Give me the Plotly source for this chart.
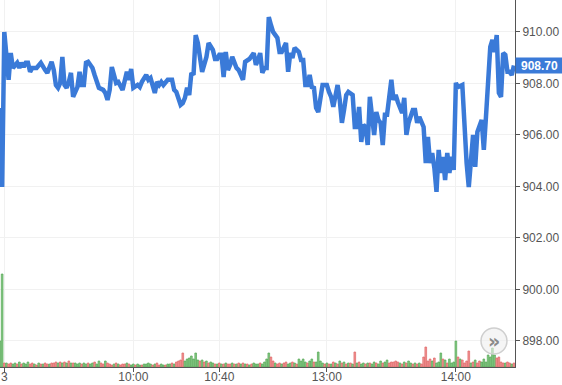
import plotly.graph_objects as go

# ---- price line (minute index in session, price) ----
minutes = [0, 1, 2, 4, 5, 6, 8, 9, 10, 11, 12, 13, 14, 15, 17, 18, 19, 21, 22, 24,
           25, 26, 27, 28, 29, 30, 31, 32, 33, 34, 35, 36, 37, 38, 39, 40, 41, 43, 44, 45,
           46, 48, 49, 50, 51, 52, 54, 55, 56, 57, 59, 60, 61, 62, 64, 65, 66, 68, 69, 70,
           72, 73, 74, 75, 76, 78, 79, 80, 81, 82, 84, 85, 86, 87, 88, 89, 90, 91, 92, 93,
           94, 96, 97, 99, 100, 101, 102, 103, 104, 105, 106, 107, 108, 110, 111, 112, 113, 114, 116, 118,
           119, 120, 121, 122, 123, 124, 125, 126, 127, 129, 130, 131, 132, 133, 134, 135, 136, 137, 139, 140,
           141, 142, 143, 144, 145, 146, 147, 148, 150, 152, 153, 154, 155, 156, 157, 158, 159, 160, 161, 162,
           164, 165, 166, 167, 168, 169, 170, 171, 172, 174, 175, 176, 177, 178, 179, 180, 181, 182, 183, 184,
           185, 186, 187, 188, 189, 190, 192, 193, 194, 195, 196, 197, 198, 199, 200, 201, 202, 203, 204, 205,
           206, 207, 208, 209, 210, 211, 212, 213, 215, 216, 217, 218, 219, 220, 221, 222, 224, 225, 226, 227,
           228, 229, 230, 231, 232, 233, 234, 235, 236, 237, 238, 239]
prices = [907.05, 903.98, 910.00, 908.14, 909.18, 908.60, 908.80, 908.60, 908.80, 908.64,
          908.80, 908.80, 908.45, 908.60, 908.60, 908.72, 908.80, 908.52, 908.41, 908.84,
          908.52, 907.94, 907.83, 908.02, 909.03, 907.94, 907.83, 908.06, 908.41, 907.48,
          907.67, 907.86, 908.45, 907.94, 907.94, 908.80, 908.84, 908.60, 908.33, 908.06,
          907.83, 907.75, 907.63, 907.36, 907.75, 908.64, 908.02, 908.06, 907.94, 907.75,
          908.45, 908.14, 908.56, 907.83, 907.94, 907.86, 908.06, 908.33, 908.14, 908.21,
          907.63, 908.06, 907.94, 908.06, 907.94, 908.14, 908.14, 908.14, 907.75, 907.67,
          907.17, 907.24, 907.44, 907.83, 907.55, 908.41, 908.33, 909.88, 909.57, 908.99,
          908.45, 909.03, 909.57, 909.30, 908.95, 908.95, 909.11, 909.11, 908.25, 909.22,
          908.52, 908.72, 909.03, 908.60, 908.52, 908.33, 908.14, 908.84, 908.95, 909.18,
          908.72, 908.91, 909.18, 908.41, 908.60, 908.60, 910.58, 910.27, 910.00, 909.77,
          909.22, 909.22, 909.42, 909.57, 908.45, 909.18, 908.99, 909.38, 909.22, 908.91,
          908.91, 907.94, 907.94, 908.33, 907.86, 907.83, 907.05, 906.89, 907.94, 907.94,
          907.67, 907.48, 907.09, 907.55, 907.94, 907.36, 906.47, 906.97, 907.55, 907.67,
          907.55, 906.31, 906.31, 907.09, 905.73, 906.39, 906.31, 905.61, 907.48, 906.00,
          906.89, 906.58, 906.47, 905.61, 906.78, 906.78, 907.55, 908.14, 907.36, 907.55,
          907.28, 907.05, 906.85, 907.44, 906.00, 906.47, 906.97, 906.97, 906.47, 906.70,
          906.51, 906.31, 904.91, 905.92, 904.91, 905.30, 904.72, 903.79, 905.42, 904.52,
          905.15, 904.25, 905.30, 904.52, 905.15, 904.64, 908.02, 907.86, 907.94, 905.92,
          904.91, 903.98, 904.91, 906.00, 904.76, 906.12, 906.58, 905.42, 906.70, 908.41,
          909.42, 909.69, 909.22, 909.88, 907.63, 907.48, 909.18, 909.11, 908.45, 908.45,
          908.33, 908.70]

# ---- volume per minute (index 0..239) and direction (g = up, r = down) ----
volume = [26, 93, 4, 4, 3, 4, 3, 4, 3, 5,
          3, 4, 3, 5, 3, 4, 3, 2, 4, 3,
          3, 4, 3, 3, 4, 4, 5, 4, 5, 4,
          5, 4, 6, 4, 4, 4, 3, 4, 3, 4,
          3, 4, 3, 4, 5, 3, 6, 4, 3, 6,
          4, 3, 2, 3, 4, 3, 2, 3, 3, 4,
          3, 2, 3, 2, 3, 2, 2, 3, 3, 4,
          3, 2, 3, 4, 2, 3, 2, 2, 3, 3,
          4, 3, 5, 6, 7, 14, 6, 8, 9, 11,
          8, 14, 7, 6, 7, 5, 6, 4, 5, 4,
          3, 3, 4, 3, 3, 4, 3, 3, 4, 3,
          3, 4, 3, 4, 3, 3, 2, 3, 4, 3,
          3, 4, 3, 5, 8, 14, 10, 6, 4, 3,
          4, 3, 4, 5, 3, 4, 5, 4, 3, 8,
          6, 8, 5, 4, 6, 8, 5, 5, 15, 6,
          4, 3, 4, 3, 3, 5, 4, 3, 6, 4,
          5, 3, 4, 4, 3, 15, 4, 5, 3, 4,
          3, 4, 4, 3, 5, 4, 3, 6, 4, 5,
          7, 4, 5, 5, 6, 5, 4, 3, 5, 4,
          6, 4, 3, 4, 3, 4, 3, 10, 20, 6,
          8, 6, 9, 4, 5, 14, 8, 7, 4, 8,
          4, 5, 26, 10, 8, 7, 4, 6, 16, 4,
          5, 7, 4, 6, 5, 8, 5, 12, 10, 19,
          12, 9, 10, 5, 4, 4, 5, 4, 3, 4]
volume_dir = "".join([
    "ggrgrrggrg", "rgggrrgrgr", "grrgrrrgrg", "rgrgrgggrg",
    "grggrggrrg", "rrrgrgrrrg", "rggrggrggg", "grgrrggrgg",
    "rgrrrrgggg", "gggrgrgrgg", "rgrgrgrrgr", "grgrgrgrgg",
    "grggggrrgr", "rgrrggrgrg", "gggrggrggg", "grgrgrgrgr",
    "grgrgrgrgg", "rgrggrggrg", "grrrrrgrgr", "ggrgrgrrrr",
    "rgrgggrgrg", "gggrgrrrrg", "rgrrgggggg", "grrrrgrrgr",
])

tick_minutes = [2, 62, 102, 152, 212]
tick_labels = ["3", "10:00", "10:40", "13:00", "14:00"]
price_ticks = [898, 900, 902, 904, 906, 908, 910]
last_price = 908.70

LINE_BLUE = "#3a7ad8"
fill = {"g": "#86c986", "r": "#f29595"}
edge = {"g": "#55a855", "r": "#de6464"}

fig = go.Figure()
fig.add_trace(go.Bar(
    x=list(range(len(volume))), y=volume, yaxis="y2",
    marker=dict(color=[fill[d] for d in volume_dir],
                line=dict(color=[edge[d] for d in volume_dir], width=0.7)),
    hoverinfo="skip"))
fig.add_trace(go.Scatter(
    x=minutes, y=prices, mode="lines",
    line=dict(color=LINE_BLUE, width=4.5), hoverinfo="skip"))

axis_font = dict(family="Liberation Sans, Arial, sans-serif", size=12, color="#555555")

fig.update_layout(
    width=562, height=385,
    margin=dict(l=0, r=47, t=0, b=18),
    plot_bgcolor="white", paper_bgcolor="white",
    showlegend=False, bargap=0.22,
    xaxis=dict(range=[0, 239.5], tickmode="array", tickvals=tick_minutes, ticktext=tick_labels,
               showgrid=True, gridcolor="#f1f1f1", gridwidth=1, zeroline=False,
               showline=True, linecolor="#555555", linewidth=1, automargin=False,
               ticks="outside", ticklen=4, tickcolor="#555555", tickfont=axis_font,
               ticklabelstandoff=-5),
    yaxis=dict(side="right", range=[896.99, 911.24], tickmode="array", tickvals=price_ticks,
               tickformat=".2f", showgrid=True, gridcolor="#f1f1f1", gridwidth=1, zeroline=False,
               showline=True, linecolor="#555555", linewidth=1, automargin=False,
               ticks="outside", ticklen=4, tickcolor="#555555", tickfont=axis_font),
    yaxis2=dict(overlaying="y", range=[0, 367], visible=False, fixedrange=True),
)

# last price marker on the axis
fig.add_annotation(x=1, xref="paper", y=last_price, yref="y",
                   text="<b>%.2f</b>" % last_price, showarrow=False,
                   xanchor="left", yanchor="middle", bgcolor=LINE_BLUE,
                   font=dict(family="Liberation Sans, Arial, sans-serif", size=12, color="white"),
                   width=45, height=13, borderpad=1, align="center")

# round "scroll" button at lower right
fig.add_shape(type="circle", xref="paper", yref="paper",
              x0=0.9592 - 0.0252, x1=0.9592 + 0.0252, y0=0.0708 - 0.0354, y1=0.0708 + 0.0354,
              fillcolor="rgba(238,238,238,0.6)", line=dict(color="#cfcfcf", width=1.5), layer="above")
fig.add_annotation(x=0.9592, y=0.0708, xref="paper", yref="paper", text="<b>»</b>",
                   showarrow=False, font=dict(family="DejaVu Sans, sans-serif", size=19, color="#8a8a8a"),
                   xanchor="center", yanchor="middle")

fig.write_html("out.html", config={"displayModeBar": False},
               post_script="document.body.style.margin='0';document.body.style.overflow='hidden';")
